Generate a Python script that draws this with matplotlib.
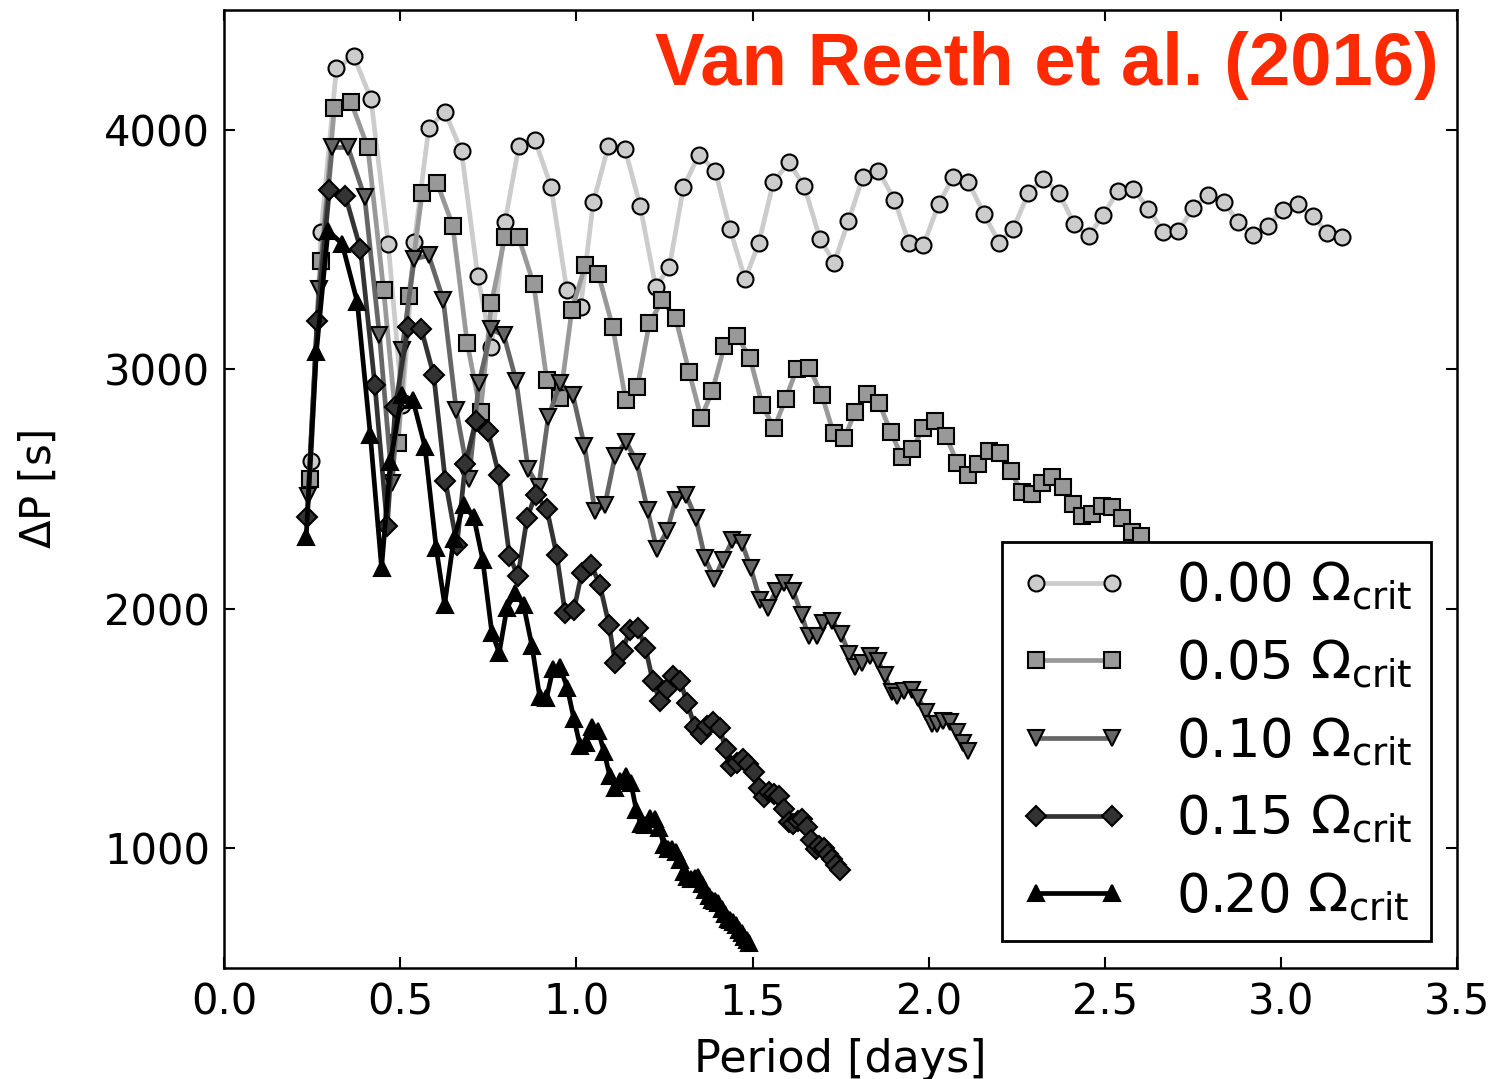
import matplotlib
matplotlib.use('Agg')
from matplotlib import pyplot as plt

# period [days] and period spacing [s], one pair of lists per rotation rate
period_000 = [0.247, 0.275, 0.319, 0.368, 0.417, 0.466, 0.506, 0.540, 0.581, 0.627,
              0.674, 0.720, 0.759, 0.797, 0.837, 0.882, 0.928, 0.973, 1.012, 1.048,
              1.091, 1.138, 1.181, 1.225, 1.264, 1.304, 1.348, 1.394, 1.436, 1.479,
              1.518, 1.559, 1.603, 1.647, 1.692, 1.732, 1.772, 1.813, 1.857, 1.903,
              1.944, 1.985, 2.028, 2.070, 2.113, 2.157, 2.200, 2.240, 2.283, 2.326,
              2.370, 2.413, 2.455, 2.496, 2.538, 2.581, 2.624, 2.666, 2.709, 2.751,
              2.794, 2.837, 2.879, 2.922, 2.962, 3.005, 3.048, 3.090, 3.132, 3.172]
dp_000 = [2617, 3571, 4257, 4308, 4128, 3524, 2850, 3531, 4007, 4075,
          3910, 3389, 3092, 3613, 3933, 3958, 3763, 3329, 3260, 3697,
          3933, 3920, 3683, 3343, 3427, 3760, 3896, 3829, 3586, 3375,
          3528, 3781, 3864, 3764, 3542, 3445, 3618, 3801, 3829, 3708,
          3526, 3517, 3688, 3804, 3781, 3649, 3528, 3586, 3735, 3795,
          3735, 3607, 3556, 3646, 3746, 3753, 3670, 3575, 3579, 3672,
          3728, 3700, 3614, 3559, 3597, 3667, 3688, 3639, 3570, 3551]

period_005 = [0.243, 0.275, 0.313, 0.360, 0.408, 0.453, 0.494, 0.524, 0.562, 0.605,
              0.649, 0.690, 0.728, 0.759, 0.797, 0.836, 0.879, 0.916, 0.954, 0.987,
              1.025, 1.062, 1.103, 1.140, 1.173, 1.207, 1.244, 1.282, 1.320, 1.354,
              1.386, 1.420, 1.457, 1.493, 1.528, 1.561, 1.594, 1.626, 1.661, 1.697,
              1.730, 1.761, 1.791, 1.826, 1.859, 1.892, 1.924, 1.954, 1.985, 2.018,
              2.049, 2.081, 2.113, 2.141, 2.172, 2.203, 2.233, 2.264, 2.293, 2.321,
              2.349, 2.380, 2.409, 2.436, 2.465, 2.493, 2.520, 2.548, 2.577, 2.602]
dp_005 = [2541, 3451, 4090, 4117, 3926, 3329, 2690, 3304, 3735, 3777,
          3600, 3109, 2823, 3277, 3551, 3551, 3354, 2955, 2878, 3246,
          3434, 3399, 3177, 2871, 2924, 3191, 3288, 3212, 2989, 2798,
          2909, 3096, 3139, 3045, 2850, 2753, 2876, 3003, 3007, 2892,
          2733, 2712, 2823, 2895, 2860, 2739, 2635, 2666, 2756, 2784,
          2721, 2610, 2559, 2605, 2659, 2649, 2573, 2489, 2480, 2524,
          2548, 2510, 2437, 2385, 2395, 2427, 2424, 2379, 2319, 2302]

period_010 = [0.238, 0.269, 0.307, 0.352, 0.399, 0.441, 0.477, 0.505, 0.540, 0.581,
              0.622, 0.659, 0.695, 0.723, 0.759, 0.794, 0.829, 0.863, 0.893, 0.920,
              0.954, 0.990, 1.023, 1.053, 1.081, 1.110, 1.141, 1.171, 1.202, 1.228,
              1.257, 1.282, 1.311, 1.339, 1.365, 1.392, 1.416, 1.443, 1.470, 1.495,
              1.521, 1.543, 1.566, 1.590, 1.616, 1.640, 1.659, 1.682, 1.701, 1.727,
              1.752, 1.775, 1.791, 1.810, 1.834, 1.857, 1.876, 1.895, 1.911, 1.931,
              1.952, 1.971, 1.993, 2.009, 2.025, 2.042, 2.061, 2.080, 2.097, 2.113]
dp_010 = [2469, 3337, 3926, 3926, 3718, 3142, 2524, 3082, 3461, 3475,
          3291, 2830, 2541, 2941, 3166, 3142, 2952, 2583, 2510, 2799,
          2941, 2892, 2680, 2406, 2434, 2639, 2698, 2614, 2413, 2249,
          2323, 2455, 2476, 2379, 2212, 2125, 2205, 2285, 2274, 2170,
          2038, 2004, 2073, 2108, 2073, 1972, 1885, 1885, 1941, 1948,
          1893, 1809, 1755, 1775, 1802, 1781, 1722, 1650, 1636, 1657,
          1661, 1625, 1570, 1518, 1518, 1532, 1525, 1483, 1441, 1407]

period_015 = [0.236, 0.264, 0.299, 0.344, 0.387, 0.428, 0.463, 0.486, 0.522, 0.560,
              0.595, 0.628, 0.661, 0.685, 0.715, 0.749, 0.780, 0.810, 0.834, 0.860,
              0.884, 0.916, 0.944, 0.968, 0.993, 1.015, 1.042, 1.067, 1.093, 1.110,
              1.131, 1.152, 1.174, 1.196, 1.217, 1.237, 1.256, 1.275, 1.295, 1.314,
              1.337, 1.354, 1.371, 1.389, 1.407, 1.424, 1.440, 1.456, 1.472, 1.488,
              1.503, 1.518, 1.533, 1.547, 1.561, 1.575, 1.589, 1.603, 1.616, 1.628,
              1.641, 1.654, 1.667, 1.679, 1.690, 1.702, 1.713, 1.725, 1.736, 1.747]
dp_015 = [2383, 3202, 3750, 3725, 3503, 2934, 2344, 2843, 3177, 3166,
          2975, 2534, 2267, 2606, 2785, 2743, 2559, 2222, 2135, 2378,
          2476, 2417, 2226, 1983, 1994, 2149, 2184, 2097, 1930, 1775,
          1823, 1913, 1920, 1837, 1698, 1615, 1663, 1719, 1698, 1608,
          1504, 1476, 1510, 1525, 1500, 1414, 1344, 1356, 1372, 1350,
          1316, 1253, 1212, 1233, 1225, 1219, 1163, 1108, 1101, 1115,
          1122, 1087, 1032, 997, 1011, 1000, 975, 955, 930, 907]

period_020 = [0.233, 0.262, 0.295, 0.335, 0.378, 0.415, 0.447, 0.472, 0.505, 0.536,
              0.570, 0.602, 0.626, 0.652, 0.680, 0.709, 0.734, 0.760, 0.781, 0.803,
              0.827, 0.850, 0.874, 0.896, 0.915, 0.934, 0.954, 0.974, 0.993, 1.011,
              1.028, 1.045, 1.062, 1.079, 1.095, 1.110, 1.125, 1.140, 1.155, 1.170,
              1.183, 1.196, 1.209, 1.222, 1.235, 1.248, 1.260, 1.271, 1.283, 1.294,
              1.305, 1.315, 1.326, 1.336, 1.346, 1.356, 1.366, 1.376, 1.385, 1.394,
              1.403, 1.412, 1.421, 1.429, 1.437, 1.445, 1.453, 1.461, 1.469, 1.476,
              1.483, 1.490]
dp_020 = [2299, 3072, 3579, 3524, 3281, 2726, 2170, 2614, 2892, 2871,
          2677, 2254, 2017, 2291, 2434, 2381, 2205, 1900, 1816, 2004,
          2066, 2015, 1844, 1630, 1625, 1750, 1755, 1670, 1540, 1425,
          1440, 1505, 1490, 1400, 1300, 1250, 1280, 1300, 1270, 1160,
          1100, 1095, 1125, 1120, 1085, 1015, 995, 998, 985, 950,
          900, 880, 872, 875, 878, 850, 825, 800, 785, 778,
          772, 745, 725, 705, 698, 692, 680, 660, 645, 630,
          615, 605]

labels = [r'0.00 $\Omega_{\rm crit}$', r'0.05 $\Omega_{\rm crit}$', r'0.10 $\Omega_{\rm crit}$',
          r'0.15 $\Omega_{\rm crit}$', r'0.20 $\Omega_{\rm crit}$']
x_ticks = [0.0, 0.5, 1.0, 1.5, 2.0, 2.5, 3.0, 3.5]
y_ticks = [1000, 2000, 3000, 4000]

series = [(period_000, dp_000), (period_005, dp_005), (period_010, dp_010),
          (period_015, dp_015), (period_020, dp_020)]
colors = ['#cccccc', '#999999', '#666666', '#333333', 'black']
markers = ['o', 's', 'v', 'D', '^']
sizes = [11.5, 11.5, 11.5, 10.5, 11.5]

fig = plt.figure(figsize=(15.04, 10.79), dpi=100)
ax = fig.add_axes([0.149, 0.103, 0.8198, 0.8877])

for (p, dp), c, m, ms, lab in zip(series, colors, markers, sizes, labels):
    ax.plot(p, dp, color=c, lw=3.4, marker=m, ms=ms, mfc=c, mec='black', mew=1.5, label=lab)

ax.set_xlim(0, 3.5)
ax.set_ylim(500, 4500)
ax.set_xticks(x_ticks)
ax.set_yticks(y_ticks)
ax.tick_params(direction='in', length=8, width=1.5, labelsize=30, top=True, right=True, pad=10)
for s in ax.spines.values():
    s.set_linewidth(1.8)

ax.set_xlabel('Period [days]', fontsize=32, labelpad=10)
ax.set_ylabel(r'$\Delta$P [s]', fontsize=30, labelpad=32)

ax.text(0.985, 0.978, 'Van Reeth et al. (2016)', transform=ax.transAxes, ha='right', va='top',
        color='#ff2a00', fontsize=53.5, fontweight='bold', family='Liberation Sans')

leg = ax.legend(loc='lower right', fontsize=38, numpoints=2, fancybox=False, framealpha=1,
                edgecolor='black', handlelength=2.05, handletextpad=0.9, labelspacing=0.48,
                borderpad=0.35, borderaxespad=0.5)
leg.get_frame().set_linewidth(2)

fig.savefig('out.png', dpi=100)
